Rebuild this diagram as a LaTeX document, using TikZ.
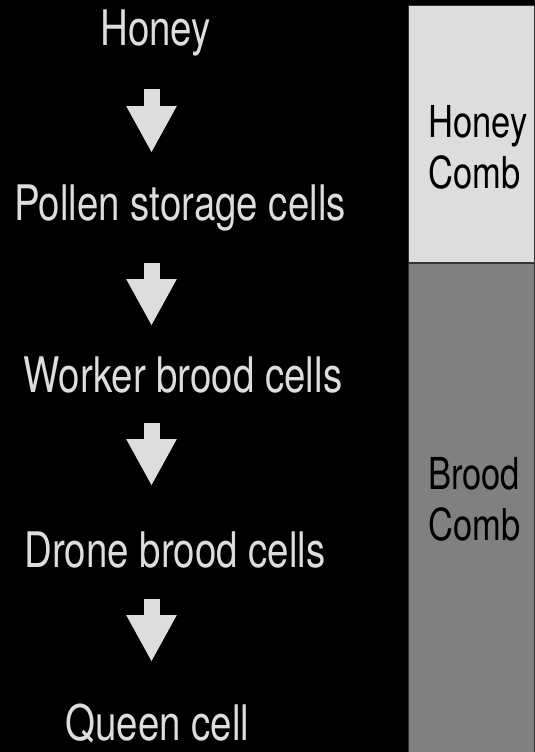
\documentclass[tikz,border=0pt]{standalone}
\usepackage{fontspec}
\setmainfont[FakeStretch=0.785]{TeX Gyre Heros}
\usepackage{tikz}
\usetikzlibrary{arrows.meta}
\usetikzlibrary{calc}
\usepackage{xcolor}
\definecolor{palegray}{HTML}{DDDDDD}
\definecolor{midgray}{HTML}{808080}
\definecolor{edgegray}{HTML}{333333}
\tikzset{
  steplabel/.style={anchor=base, inner sep=0pt, text=palegray,
    font=\fontsize{49}{58}\selectfont},
  combtext/.style={anchor=base west, inner sep=0pt, text=black, align=left,
    font=\fontsize{44}{51}\selectfont},
  flowarrow/.style={draw=palegray, line width=16pt,
    -{Triangle[length=47pt, width=47pt]}},
}

\begin{document}
\begin{tikzpicture}[x=1pt, y=-1pt]
      \useasboundingbox (0,0) rectangle (535,752);
      \fill[black] (0,0) rectangle (535,752);
      
      % ---- Colonne droite : rayons ----
      \filldraw[fill=palegray, draw=edgegray, line width=1pt] (408,6) rectangle (534.5,262);
      \filldraw[fill=midgray, draw=edgegray, line width=1pt] (408,263) rectangle (534.5,760);
      \node[combtext] (honeycomb) at (428,188) {Honey\\Comb};
      \node[combtext] (broodcomb) at (428,540) {Brood\\Comb};
      
      % ---- Colonne gauche : cellules ----
      \node[steplabel] (honey) at (155.5,46) {Honey};
      \node[steplabel] (pollen) at (180,220) {Pollen storage cells};
      \node[steplabel] (worker) at (183,392) {Worker brood cells};
      \node[steplabel] (drone) at (175,567) {Drone brood cells};
      \node[steplabel] (queen) at (157.5,740) {Queen cell};
      
      % ---- Fleches ----
      \coordinate (col) at (151.5,0);
      \draw[flowarrow, shorten <=43pt, shorten >=67pt] (honey.base -| col) -- (pollen.base -| col);
      \draw[flowarrow, shorten <=43pt, shorten >=66pt] (pollen.base -| col) -- (worker.base -| col);
      \draw[flowarrow, shorten <=31pt, shorten >=81pt] (worker.base -| col) -- (drone.base -| col);
      \draw[flowarrow, shorten <=32pt, shorten >=78pt] (drone.base -| col) -- (queen.base -| col);
      
\end{tikzpicture}
\end{document}
